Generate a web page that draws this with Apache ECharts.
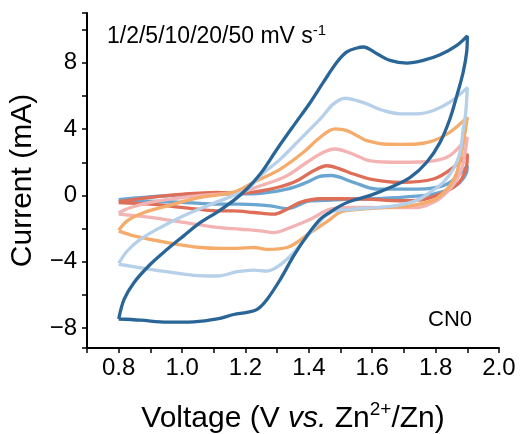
<!DOCTYPE html>
<html>
<head>
<meta charset="utf-8">
<script src="https://cdn.jsdelivr.net/npm/echarts@6/dist/echarts.min.js"></script>
<style>html,body{margin:0;padding:0;background:#fff;}#c{width:520px;height:434px;}</style>
</head>
<body>
<div id="c"></div>
<script>
// Scan rates (mV/s) and colours
const scanRates = ['1', '2', '5', '10', '20', '50'];
const colors = ['#6aa6d0', '#de6e58', '#f4b3b3', '#f5ab6a', '#b5d0e8', '#2a6598'];

// 1 mV/s
const v1 = [0.80,0.953,1.111,1.226,1.331,1.394,1.435,1.47,1.541,1.615,1.741,1.835,1.90, 1.898,1.877,1.845,1.793,1.70,1.60,1.50,1.45,1.405,1.331,1.279,1.184,1.121,1.0,0.90,0.80];
const i1 = [-0.25,-0.02,0.08,0.10,0.38,0.79,1.15,1.20,0.79,0.38,0.38,0.68,1.79, 1.40,0.79,0.38,0.08,-0.10,-0.20,-0.25,-0.30,-0.33,-0.80,-0.63,-0.53,-0.53,-0.42,-0.35,-0.32];
// 2 mV/s
const v2 = [0.80,0.90,1.005,1.111,1.184,1.279,1.352,1.415,1.457,1.499,1.541,1.594,1.688,1.793,1.856,1.90, 1.898,1.882,1.856,1.814,1.75,1.688,1.583,1.50,1.436,1.373,1.331,1.289,1.226,1.163,1.111,1.005,0.90,0.80];
const i2 = [-0.38,-0.12,0.08,0.18,0.12,0.38,0.79,1.49,1.79,1.59,1.29,0.99,0.79,0.99,1.69,2.50, 1.79,0.99,0.48,0.08,-0.28,-0.32,-0.22,-0.20,-0.20,-0.42,-0.83,-1.13,-1.03,-0.93,-0.93,-0.73,-0.53,-0.43];
// 5 mV/s
const v5 = [0.80,0.838,0.90,1.005,1.111,1.184,1.247,1.331,1.394,1.446,1.483,1.531,1.562,1.594,1.688,1.793,1.845,1.90, 1.893,1.882,1.861,1.835,1.80,1.741,1.635,1.53,1.468,1.405,1.342,1.289,1.247,1.184,1.111,1.005,0.90,0.80];
const i5 = [-1.05,-0.73,-0.42,-0.12,0.08,0.18,0.58,1.19,2.00,2.60,2.80,2.55,2.30,2.09,2.00,2.09,2.40,3.51, 2.60,1.59,0.79,0.18,-0.35,-0.73,-0.73,-0.72,-0.83,-1.43,-1.93,-2.24,-2.14,-2.04,-1.93,-1.63,-1.33,-1.13];
// 10 mV/s
const v10 = [0.80,0.827,0.88,0.953,1.058,1.163,1.226,1.31,1.383,1.436,1.483,1.52,1.562,1.583,1.635,1.688,1.741,1.793,1.845,1.90, 1.893,1.882,1.867,1.845,1.814,1.793,1.72,1.635,1.55,1.50,1.468,1.405,1.331,1.268,1.226,1.174,1.121,1.058,0.953,0.848,0.80];
const i10 = [-2.10,-1.53,-1.03,-0.63,-0.12,0.20,0.79,1.59,2.60,3.51,4.01,3.91,3.50,3.30,3.10,3.08,3.10,3.30,3.81,4.72, 3.81,2.60,1.39,0.58,-0.02,-0.30,-0.63,-0.73,-0.85,-1.00,-1.43,-2.24,-3.14,-3.25,-3.14,-3.19,-3.19,-3.14,-2.84,-2.44,-2.14];
// 20 mV/s
const v20 = [0.80,0.827,0.869,0.932,1.005,1.079,1.163,1.205,1.247,1.31,1.373,1.436,1.478,1.515,1.552,1.583,1.635,1.688,1.741,1.793,1.845,1.90, 1.895,1.887,1.877,1.856,1.824,1.782,1.74,1.68,1.60,1.53,1.468,1.405,1.352,1.305,1.268,1.226,1.174,1.111,1.037,0.95,0.90,0.80];
const i20 = [-4.10,-3.35,-2.64,-1.93,-1.23,-0.63,0.00,0.35,1.19,2.19,3.40,4.61,5.52,5.86,5.72,5.52,5.12,4.92,4.92,5.12,5.62,6.50, 5.00,4.00,2.60,1.59,0.79,0.18,-0.30,-0.60,-0.75,-0.85,-1.03,-2.24,-3.45,-4.25,-4.56,-4.50,-4.60,-4.86,-4.82,-4.60,-4.46,-4.15];
// 50 mV/s
const v50 = [0.80,0.817,0.848,0.90,0.953,1.005,1.058,1.111,1.163,1.205,1.247,1.30,1.352,1.405,1.446,1.489,1.52,1.552,1.572,1.615,1.656,1.709,1.761,1.814,1.867,1.90, 1.898,1.887,1.867,1.845,1.814,1.772,1.72,1.656,1.594,1.531,1.499,1.468,1.436,1.394,1.352,1.31,1.268,1.237,1.205,1.163,1.111,1.037,0.953,0.869,0.80];
const i50 = [-7.45,-6.27,-5.26,-4.15,-3.25,-2.44,-1.63,-1.00,-0.30,0.40,1.30,2.80,4.21,5.62,6.83,8.04,8.65,8.89,8.95,8.54,8.14,7.98,8.14,8.48,9.05,9.62, 8.65,7.44,6.02,4.61,3.20,2.00,1.09,0.48,0.00,-0.35,-0.63,-1.00,-1.43,-2.44,-3.65,-5.06,-6.27,-6.87,-7.05,-7.18,-7.45,-7.62,-7.64,-7.52,-7.45];

const voltages = [v1, v2, v5, v10, v20, v50];
const currents = [i1, i2, i5, i10, i20, i50];

const xMin = 0.7, xMax = 2.0, yMin = -9.2, yMax = 11;
const FONT = 'Liberation Sans, Arial';

const series = scanRates.map((r, k) => ({
  name: r + ' mV/s',
  type: 'line',
  data: voltages[k].map((v, j) => [v, currents[k][j]]),
  showSymbol: false,
  smooth: 0.35,
  lineStyle: { color: colors[k], width: 3.3 },
  z: 2 + k,
  animation: false
}));

const chart = echarts.init(document.getElementById('c'), null, { renderer: 'canvas' });
chart.setOption({
  animation: false,
  backgroundColor: '#fff',
  grid: { left: 87, right: 21, top: 13, bottom: 86, containLabel: false, outerBoundsMode: 'none' },
  xAxis: {
    type: 'value', min: xMin, max: xMax, interval: 0.1,
    axisLine: { show: true, onZero: false, lineStyle: { color: '#000', width: 2 } },
    axisTick: { show: true, inside: false, length: 5, lineStyle: { color: '#000', width: 1.5 } },
    axisLabel: {
      color: '#000', fontSize: 24, fontFamily: FONT, margin: 8,
      formatter: v => (Math.round(v * 10) % 2 === 0 ? v.toFixed(1) : '')
    },
    splitLine: { show: false },
    name: 'Voltage (V {i|vs.} Zn{sup|2+}/Zn)',
    nameLocation: 'middle', nameGap: 52,
    nameTextStyle: {
      color: '#000', fontSize: 30, fontFamily: FONT,
      rich: {
        i: { fontSize: 30, fontStyle: 'italic', color: '#000', fontFamily: FONT },
        sup: { fontSize: 19, color: '#000', fontFamily: FONT, padding: [0, 0, 18, 0] }
      }
    }
  },
  yAxis: {
    type: 'value', min: yMin, max: yMax, splitNumber: 10,
    axisLine: { show: true, onZero: false, lineStyle: { color: '#000', width: 2 } },
    axisTick: { show: true, inside: false, length: 5, lineStyle: { color: '#000', width: 1.5 } },
    axisLabel: {
      color: '#000', fontSize: 24, fontFamily: FONT, margin: 10,
      formatter: v => {
        const r = Math.round(v);
        if (Math.abs(v - r) > 1e-6 || r % 4 !== 0) return '';
        return r < 0 ? '\u2212' + Math.abs(r) : String(r);
      }
    },
    splitLine: { show: false },
    name: 'Current (mA)',
    nameLocation: 'middle', nameGap: 49,
    nameTextStyle: { color: '#000', fontSize: 30, fontFamily: FONT }
  },
  graphic: [
    {
      type: 'text', left: 107, top: 23,
      style: {
        text: '1/2/5/10/20/50 mV s{s|-1}',
        fill: '#000', font: '23px "Liberation Sans", Arial',
        rich: { s: { fontSize: 15, fill: '#000', fontFamily: FONT, padding: [0, 0, 12, 0] } }
      }
    },
    {
      type: 'text', left: 428, top: 309,
      style: { text: 'CN0', fill: '#000', font: '22px "Liberation Sans", Arial' }
    }
  ],
  series: series
});
</script>
</body>
</html>
